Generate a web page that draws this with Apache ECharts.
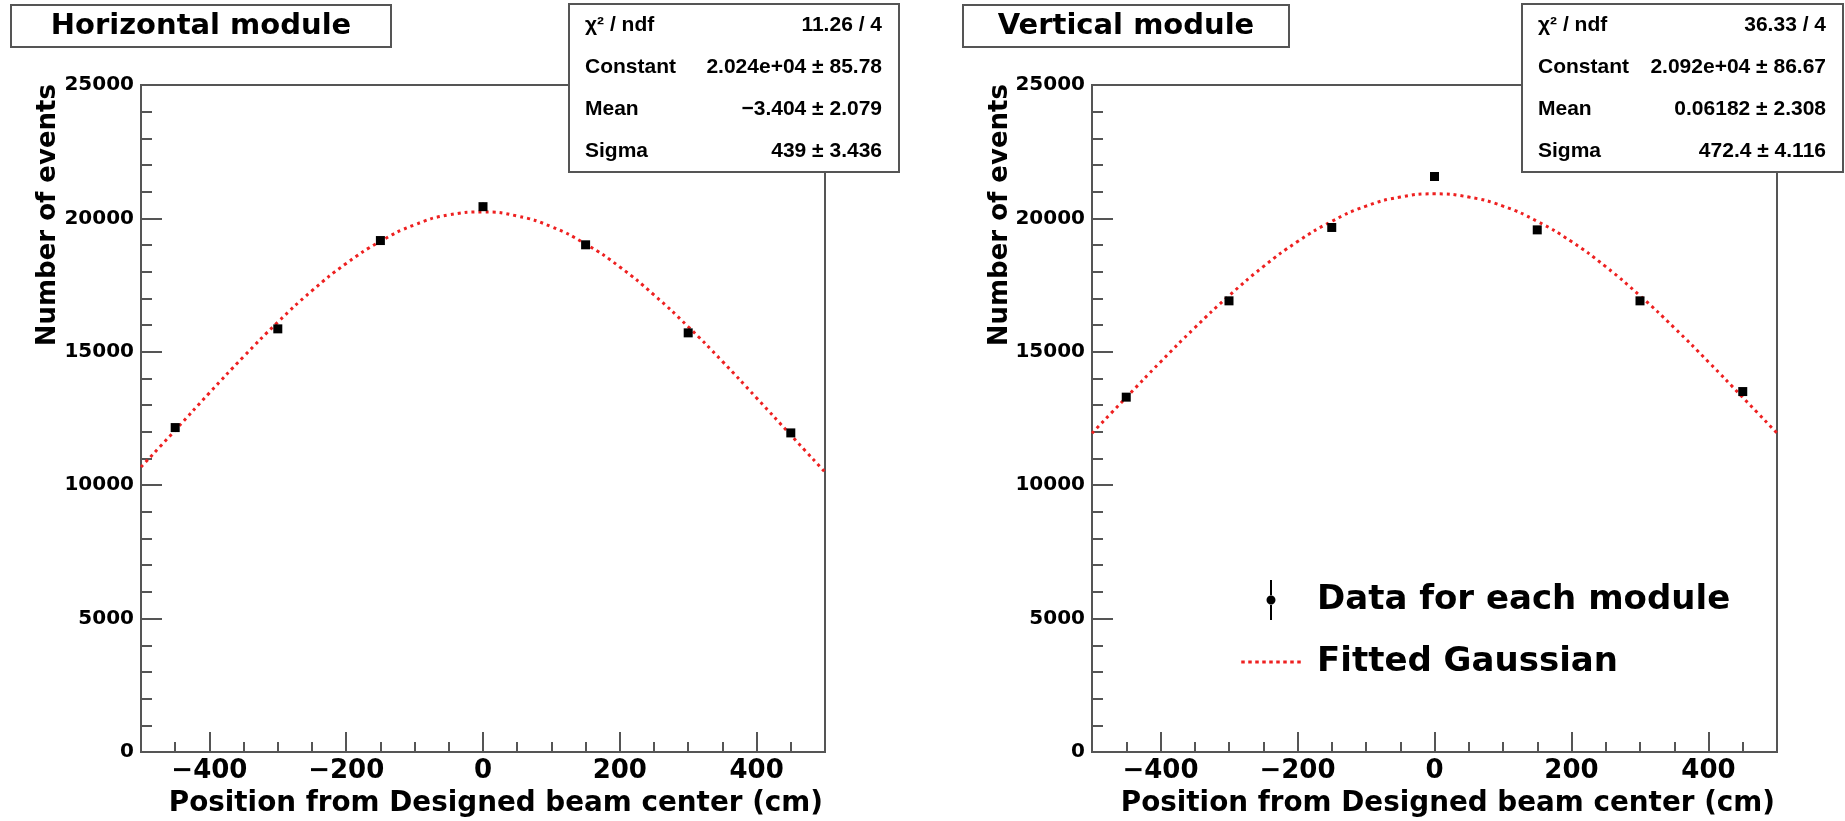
<!DOCTYPE html>
<html><head><meta charset="utf-8">
<script src="https://cdn.jsdelivr.net/npm/echarts@6/dist/echarts.min.js"></script>
<style>html,body{margin:0;padding:0;background:#fff}#c{width:1845px;height:821px}</style>
</head><body><div id="c"></div>
<script>
// ---- data ----
const positions = [-450, -300, -150, 0, 150, 300, 450];
const horizCounts = [12160, 15860, 19170, 20440, 19010, 15710, 11960];
const horizErrors = [110, 126, 138, 143, 138, 125, 109];
const vertCounts = [13300, 16910, 19660, 21570, 19570, 16910, 13510];
const vertErrors = [115, 130, 140, 147, 140, 130, 116];
const fitX = [-500, -450, -400, -350, -300, -250, -200, -150, -100, -50, 0, 50, 100, 150, 200, 250, 300, 350, 400, 450, 500];
const horizFit = [10680, 12060, 13460, 14820, 16110, 17290, 18310, 19140, 19760, 20130, 20240, 20090, 19690, 19040, 18180, 17130, 15940, 14640, 13270, 11880, 10490];
const vertFit = [11950, 13290, 14620, 15900, 17100, 18190, 19130, 19890, 20460, 20800, 20920, 20800, 20460, 19890, 19130, 18190, 17100, 15900, 14620, 13290, 11950];
const xTickLabels = [-400, -200, 0, 200, 400];
const yTickLabels = [0, 5000, 10000, 15000, 20000, 25000];
const panelTitles = ['Horizontal module', 'Vertical module'];
const horizStats = [['\u03c7\u00b2 / ndf', '11.26 / 4'], ['Constant', '2.024e+04 \u00b1 85.78'], ['Mean', '\u22123.404 \u00b1 2.079'], ['Sigma', '439 \u00b1 3.436']];
const vertStats = [['\u03c7\u00b2 / ndf', '36.33 / 4'], ['Constant', '2.092e+04 \u00b1 86.67'], ['Mean', '0.06182 \u00b1 2.308'], ['Sigma', '472.4 \u00b1 4.116']];
const xTitle = 'Position from Designed beam center (cm)';
const yTitle = 'Number of events';
const dataName = 'Data for each module';
const fitName = 'Fitted Gaussian';

// ---- styling / layout ----
const FONT = '"DejaVu Sans", sans-serif';
const AX = '#555';
const RED = '#ee2020';
const grids = [
  {left: 141, top: 85, width: 684, height: 667},
  {left: 1092, top: 85, width: 685, height: 667}
];
const fmtX = v => v < 0 ? '\u2212' + (-v) : String(v);

// legend icons (62 x 40 boxes)
let dashPath = 'path://M31,0h0.01v0.01h-0.01z M31,40h0.01v-0.01h-0.01z';
for (let k = 0; k < 9; k++) {
  const x0 = 1 + k * 7;
  dashPath += ' M' + x0 + ',18.5h3.5v3h-3.5z';
}
const dataIcon = 'path://M0,20h0.01v0.01h-0.01z M62,20h-0.01v0.01h0.01z M30,0h2v16h-2z M30,24h2v16h-2z M26.5,20a4.5,4.5 0 1,0 9,0a4.5,4.5 0 1,0 -9,0z';

const xAxes = [], yAxes = [], series = [];
[0, 1].forEach(g => {
  xAxes.push({
    gridIndex: g, type: 'value', min: -500, max: 500, interval: 50, position: 'bottom',
    axisLine: {show: true, onZero: false, lineStyle: {color: AX, width: 2}},
    axisTick: {show: true, inside: true, length: 10, lineStyle: {color: AX, width: 2}},
    axisLabel: {
      formatter: v => xTickLabels.includes(v) ? fmtX(v) : '',
      fontFamily: FONT, fontSize: 26, fontWeight: 'bold', color: '#000', margin: 6
    },
    splitLine: {show: false}
  });
  xAxes.push({
    gridIndex: g, type: 'value', min: -500, max: 500, position: 'bottom',
    axisLine: {show: false, onZero: false},
    axisTick: {show: true, inside: true, length: 20, customValues: xTickLabels, lineStyle: {color: AX, width: 2}},
    axisLabel: {show: false},
    splitLine: {show: false}
  });
  yAxes.push({
    gridIndex: g, type: 'value', min: 0, max: 25000, interval: 5000,
    axisLine: {show: true, onZero: false, lineStyle: {color: AX, width: 2}},
    axisTick: {show: true, inside: true, length: 21, lineStyle: {color: AX, width: 2}},
    minorTick: {show: true, splitNumber: 5, length: 11, lineStyle: {color: AX, width: 2}},
    axisLabel: {
      formatter: v => yTickLabels.includes(v) ? String(v) : '',
      fontFamily: FONT, fontSize: 20, fontWeight: 'bold', color: '#000', margin: 7
    },
    splitLine: {show: false}, minorSplitLine: {show: false}
  });
  const counts = g === 0 ? horizCounts : vertCounts;
  const errs = g === 0 ? horizErrors : vertErrors;
  const fit = g === 0 ? horizFit : vertFit;
  series.push({
    name: fitName, type: 'line', xAxisIndex: g * 2, yAxisIndex: g,
    data: fitX.map((x, i) => [x, fit[i]]), smooth: true, symbol: 'none',
    itemStyle: {color: RED},
    lineStyle: {color: RED, width: 3, type: [3, 4]}, z: 3, silent: true
  });
  series.push({
    name: 'errors' + g, type: 'custom', xAxisIndex: g * 2, yAxisIndex: g,
    data: positions.map((x, i) => [x, counts[i], errs[i]]),
    encode: {x: 0, y: 1},
    renderItem: (params, api) => {
      const x = api.value(0), y = api.value(1), e = api.value(2);
      const p1 = api.coord([x, y - e]), p2 = api.coord([x, y + e]);
      return {type: 'line', shape: {x1: p1[0], y1: p1[1], x2: p2[0], y2: p2[1]}, style: {stroke: '#000', lineWidth: 2}};
    }, z: 4, silent: true
  });
  series.push({
    name: dataName, type: 'scatter', xAxisIndex: g * 2, yAxisIndex: g,
    data: positions.map((x, i) => [x, counts[i]]),
    symbol: 'rect', symbolSize: 9, itemStyle: {color: '#000', opacity: 1}, z: 5
  });
});

const graphics = [];
const titleBoxes = [{x: 11, w: 380}, {x: 963, w: 326}];
titleBoxes.forEach((b, i) => {
  graphics.push({type: 'rect', z: 100, shape: {x: b.x, y: 5, width: b.w, height: 42}, style: {fill: '#fff', stroke: AX, lineWidth: 2}});
  graphics.push({type: 'text', z: 101, x: b.x + b.w / 2, y: 26, style: {text: panelTitles[i], font: 'bold 29px ' + FONT, fill: '#000', align: 'center', verticalAlign: 'middle'}});
});
const statBoxes = [{x: 569, w: 330, rows: horizStats}, {x: 1522, w: 321, rows: vertStats}];
statBoxes.forEach(b => {
  graphics.push({type: 'rect', z: 100, shape: {x: b.x, y: 4, width: b.w, height: 168}, style: {fill: '#fff', stroke: AX, lineWidth: 2}});
  b.rows.forEach((r, i) => {
    const y = 25 + 42 * i;
    graphics.push({type: 'text', z: 101, x: b.x + 16, y: y, style: {text: r[0], font: 'bold 21px "Liberation Sans", sans-serif', fill: '#000', align: 'left', verticalAlign: 'middle'}});
    graphics.push({type: 'text', z: 101, x: b.x + b.w - 17, y: y, style: {text: r[1], font: 'bold 21px "Liberation Sans", sans-serif', fill: '#000', align: 'right', verticalAlign: 'middle'}});
  });
});
[48, 1000].forEach(x => {
  graphics.push({type: 'text', z: 101, x: x, y: 84, rotation: Math.PI / 2, style: {text: yTitle, font: 'bold 26px ' + FONT, fill: '#000', align: 'right', verticalAlign: 'middle'}});
});
[823, 1775].forEach(x => {
  graphics.push({type: 'text', z: 101, x: x, y: 804, style: {text: xTitle, font: 'bold 27.8px ' + FONT, fill: '#000', align: 'right', verticalAlign: 'middle'}});
});

const chart = echarts.init(document.getElementById('c'), null, {renderer: 'canvas'});
chart.setOption({
  animation: false,
  backgroundColor: '#fff',
  grid: grids.map(g => Object.assign({show: true, borderColor: AX, borderWidth: 2, backgroundColor: 'rgba(0,0,0,0)'}, g)),
  xAxis: xAxes,
  yAxis: yAxes,
  series: series,
  legend: {
    data: [
      {name: dataName, icon: dataIcon, itemStyle: {color: '#000'}},
      {name: fitName, icon: dashPath, itemStyle: {color: RED}}
    ],
    orient: 'vertical', left: 1240, top: 580, padding: 0,
    itemWidth: 62, itemHeight: 40, itemGap: 22, selectedMode: false,
    textStyle: {fontFamily: FONT, fontSize: 34, fontWeight: 'bold', color: '#000', padding: [0, 0, 0, 10]}
  },
  graphic: graphics
});
</script>
</body></html>
